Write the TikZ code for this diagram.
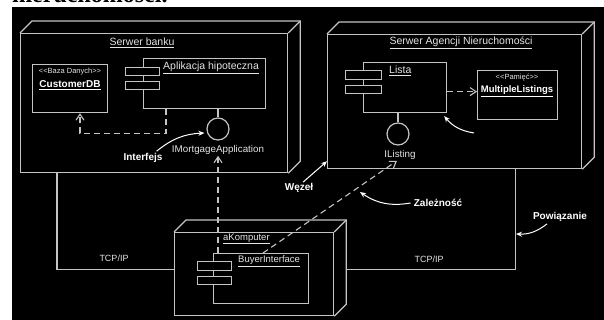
\documentclass[tikz,border=0pt]{standalone}
\usepackage{fontspec}
\setmainfont{Liberation Sans}
\newfontfamily\serifcaption{Liberation Serif}
\usetikzlibrary{arrows.meta,calc}

\definecolor{edgegray}{HTML}{C4C4C4}
\definecolor{textgray}{HTML}{E4E4E4}

% guillemet-free stereotype brackets
\newcommand{\stereo}[1]{<\kern0pt<#1>\kern0pt>}

\tikzset{
  face/.style={draw=edgegray, line width=1.2pt, fill=black, inner sep=0pt, anchor=north west},
  edge/.style={draw=edgegray, line width=1.2pt},
  comp/.style={draw=edgegray, line width=1.2pt, fill=black, inner sep=0pt, anchor=north west},
  lolli/.style={draw=edgegray, line width=1.2pt, circle, minimum size=22pt, inner sep=0pt},
  txt/.style={text=textgray, inner sep=0pt, font=\fontsize{10.5}{12}\selectfont},
  small/.style={text=textgray, inner sep=0pt, font=\fontsize{7.5}{9}\selectfont},
  boldlbl/.style={text=white, inner sep=0pt, font=\fontsize{10}{12}\selectfont\bfseries},
  dep/.style={draw=edgegray, line width=1.1pt, dash pattern=on 6pt off 4pt,
              -{Straight Barb[length=6pt,width=8pt]}},
  ptr/.style={draw=white, line width=1pt, -{Stealth[length=6pt,width=5pt]}},
  link/.style={draw=edgegray, line width=1.1pt},
}

\begin{document}
\begin{tikzpicture}[x=1pt,y=-1pt]
\useasboundingbox (0,0) rectangle (604,320);

% caption text above the figure, cut off by the page edge
\node[anchor=base west, inner sep=0pt, font=\fontsize{24}{24}\selectfont\serifcaption\bfseries]
  (caption) at (12,2.6) {nieruchomości.};

% black canvas
\fill[black] (12,7) rectangle (604,320);

% ---------- Serwer banku ----------
\node[face, minimum width=267pt, minimum height=139pt] (bank) at (20,33) {};
\draw[edge] (bank.north west) -- ++(12,-12) -| ($(bank.south east)+(12,-12)$) -- (bank.south east);
\draw[edge] (bank.north east) -- ++(12,-12);
\node[txt] (banktitle) at (142,43) {\underline{Serwer banku}};

\node[face, minimum width=75pt, minimum height=48pt] (custdb) at (32,64) {};
\node[small] (custst) at (70,72) {\stereo{Baza Danych}};
\node[boldlbl] (custname) at (70,85) {\underline{CustomerDB}};

\node[comp, minimum width=122pt, minimum height=50pt] (app) at (143,58) {};
\node[comp, minimum width=34pt, minimum height=8pt] (appa) at (125,67) {};
\node[comp, minimum width=34pt, minimum height=8pt] (appb) at (125,81) {};
\node[txt, anchor=west] (apptitle) at (163,68) {\underline{Aplikacja hipoteczna}};

\node[lolli] (mortif) at (218,129) {};
\draw[edge] (app.south -| mortif) -- (mortif.north);
\node[txt, font=\fontsize{9.8}{12}\selectfont] (mortlbl) at (218,150) {IMortgageApplication};

\draw[dep] ([xshift=23pt]app.south west) -- ++(0,24) -| ([xshift=48pt]custdb.south west);

\node[boldlbl] (interf) at (143,158) {Interfejs};
\draw[ptr] ([shift={(-6,-2)}]interf.north east) to[bend left=18] ([shift={(-2,4)}]mortif.west);

% ---------- Serwer Agencji Nieruchomości ----------
\node[face, minimum width=254pt, minimum height=134pt] (agency) at (327,34) {};
\draw[edge] (agency.north west) -- ++(12,-12) -| ($(agency.south east)+(12,-12)$) -- (agency.south east);
\draw[edge] (agency.north east) -- ++(12,-12);
\node[txt] (agtitle) at (461,43) {\underline{Serwer Agencji Nieruchomości}};

\node[comp, minimum width=83pt, minimum height=50pt] (lista) at (363,62) {};
\node[comp, minimum width=36pt, minimum height=9pt] (listaa) at (345,70) {};
\node[comp, minimum width=36pt, minimum height=8pt] (listab) at (345,85) {};
\node[txt, anchor=west] (listatitle) at (389,71) {\underline{Lista}};

\node[face, minimum width=80pt, minimum height=49pt] (mult) at (477,70) {};
\node[small] (multst) at (517,78) {\stereo{Pamięć}};
\node[boldlbl, font=\fontsize{9.5}{12}\selectfont\bfseries] (multname) at (517,91) {\underline{MultipleListings}};

\draw[dep] ([yshift=-4pt]lista.east) -- ([yshift=-4pt]lista.east -| mult.west);

\node[lolli] (listif) at (398,134) {};
\draw[edge] (lista.south -| listif) -- (listif.north);
\node[txt, font=\fontsize{9.8}{12}\selectfont] (listlbl) at (400,155) {IListing};

\coordinate (memnote) at (474,133);
\draw[ptr] (memnote) to[bend left=20] ([shift={(-3,3)}]lista.south east);

% ---------- aKomputer ----------
\node[face, minimum width=159pt, minimum height=83pt] (komp) at (174,232) {};
\draw[edge] (komp.north west) -- ++(12,-12) -| ($(komp.south east)+(12,-12)$) -- (komp.south east);
\draw[edge] (komp.north east) -- ++(12,-12);

\node[comp, minimum width=95pt, minimum height=50pt] (buyer) at (213,253) {};
\node[comp, minimum width=34pt, minimum height=9pt] (buyera) at (197,261) {};
\node[comp, minimum width=34pt, minimum height=8pt] (buyerb) at (197,276) {};
\node[txt, font=\fontsize{9.5}{12}\selectfont, anchor=west] (komptitle) at (223,239) {\underline{aKomputer}};
\node[txt, font=\fontsize{9.5}{12}\selectfont, anchor=west] (buyertitle) at (238,261) {\underline{BuyerInterface}};

% dependencies on the provided interfaces
\draw[dep] (mortlbl.south |- buyer.north) -- ([yshift=-1pt]mortlbl.south);
\draw[dep] ([xshift=50pt]buyer.north west) -- ([shift={(-3,1)}]listlbl.south);

% ---------- TCP/IP links ----------
\draw[link] ([xshift=37pt]bank.south west) |- ([yshift=5pt]komp.west);
\draw[link] ([shift={(12,-5)}]komp.east) -| ([xshift=-67pt]agency.south east);
\node[txt, font=\fontsize{9}{11}\selectfont] (tcpl) at (114,258) {TCP/IP};
\node[txt, font=\fontsize{9}{11}\selectfont] (tcpr) at (429,259) {TCP/IP};

% ---------- notes ----------
\node[boldlbl] (wezel) at (299,188) {Węzeł};
\draw[ptr] ([shift={(4,-1)}]wezel.north) -- ([yshift=8pt]agency.south west);

\node[boldlbl] (zalez) at (438,203) {Zależność};
\coordinate (deppt) at (360,192);
\draw[ptr] ([xshift=-3pt]zalez.west) to[bend left=22] (deppt);

\node[boldlbl] (powiaz) at (560,217) {Powiązanie};
\coordinate (linkpt) at (516,234);
\draw[ptr] ([shift={(-13,2)}]powiaz.south) to[bend left=20] (linkpt);

\end{tikzpicture}
\end{document}
